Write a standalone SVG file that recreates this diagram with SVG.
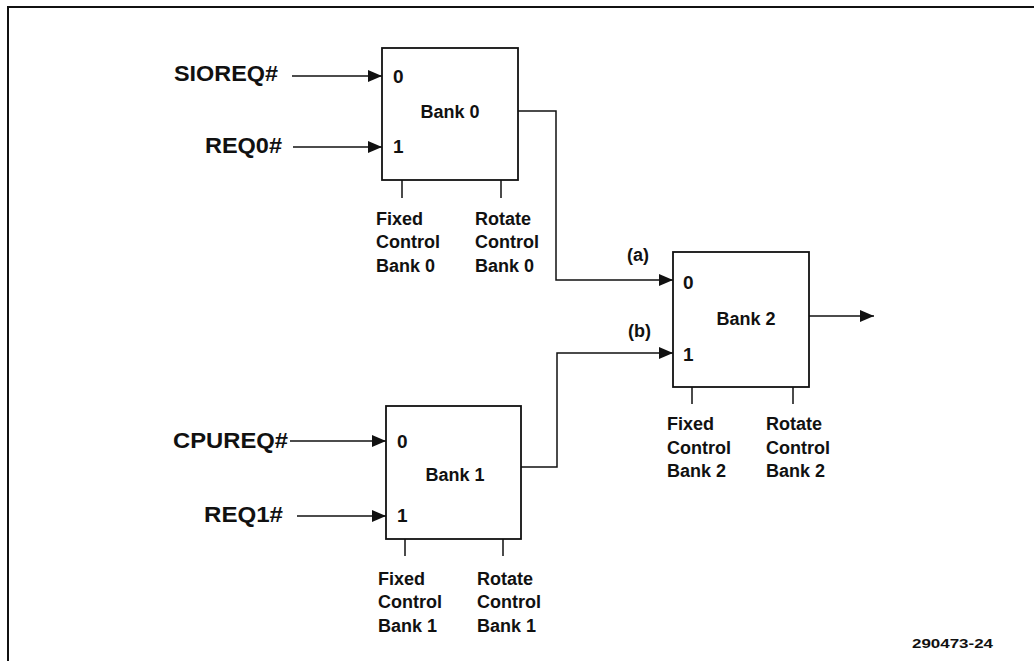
<svg xmlns="http://www.w3.org/2000/svg" width="1034" height="661" viewBox="0 0 1034 661">
<style>
text{font-family:"Liberation Sans",Arial,sans-serif;font-weight:bold;fill:#111}
.in{font-size:22px}
.lb{font-size:18px}
.pin{font-size:19px}
.sm{font-size:13px}
.box{fill:#fff;stroke:#111;stroke-width:1.8}
.w{fill:none;stroke:#111;stroke-width:1.5}
</style>
<defs>
<marker id="ah" viewBox="0 0 14 12" refX="14" refY="6" markerWidth="14" markerHeight="12" markerUnits="userSpaceOnUse" orient="auto">
<path d="M0,0L14,6L0,12Z" fill="#111"/>
</marker>
</defs>
<rect width="1034" height="661" fill="#fff"/>
<path d="M8,661V7H1034" fill="none" stroke="#111" stroke-width="2"/>

<g id="connectors">
<path class="w" d="M292,76H382" marker-end="url(#ah)"/>
<path class="w" d="M293,147H382" marker-end="url(#ah)"/>
<path class="w" d="M290,441H386" marker-end="url(#ah)"/>
<path class="w" d="M297,516H386" marker-end="url(#ah)"/>
<path class="w" d="M518,111H556V280H673" marker-end="url(#ah)"/>
<path class="w" d="M521,467H557V353H673" marker-end="url(#ah)"/>
<path class="w" d="M809,316H874" marker-end="url(#ah)"/>
<path class="w" d="M402,180V198M501,180V198"/>
<path class="w" d="M405,539V556M503,539V556"/>
<path class="w" d="M692,387V404M793,387V404"/>
</g>

<g id="inputs">
<text class="in" x="174" y="81" textLength="104" lengthAdjust="spacingAndGlyphs">SIOREQ#</text>
<text class="in" x="205" y="153" textLength="77" lengthAdjust="spacingAndGlyphs">REQ0#</text>
<text class="in" x="173" y="448" textLength="115" lengthAdjust="spacingAndGlyphs">CPUREQ#</text>
<text class="in" x="204" y="522" textLength="79" lengthAdjust="spacingAndGlyphs">REQ1#</text>
</g>

<g id="bank0">
<rect class="box" x="382" y="48" width="136" height="132"/>
<text class="pin" x="393" y="83">0</text>
<text class="pin" x="393" y="153">1</text>
<text class="lb" x="450" y="118" text-anchor="middle">Bank 0</text>
<text class="lb" x="376" y="225">Fixed</text>
<text class="lb" x="376" y="248">Control</text>
<text class="lb" x="376" y="272">Bank 0</text>
<text class="lb" x="475" y="225">Rotate</text>
<text class="lb" x="475" y="248">Control</text>
<text class="lb" x="475" y="272">Bank 0</text>
</g>

<g id="bank1">
<rect class="box" x="386" y="406" width="135" height="133"/>
<text class="pin" x="397" y="448">0</text>
<text class="pin" x="397" y="522">1</text>
<text class="lb" x="455" y="481" text-anchor="middle">Bank 1</text>
<text class="lb" x="378" y="585">Fixed</text>
<text class="lb" x="378" y="608">Control</text>
<text class="lb" x="378" y="632">Bank 1</text>
<text class="lb" x="477" y="585">Rotate</text>
<text class="lb" x="477" y="608">Control</text>
<text class="lb" x="477" y="632">Bank 1</text>
</g>

<g id="bank2">
<rect class="box" x="673" y="252" width="136" height="135"/>
<text class="pin" x="683" y="289">0</text>
<text class="pin" x="683" y="361">1</text>
<text class="lb" x="746" y="325" text-anchor="middle">Bank 2</text>
<text class="lb" x="667" y="430">Fixed</text>
<text class="lb" x="667" y="454">Control</text>
<text class="lb" x="667" y="477">Bank 2</text>
<text class="lb" x="766" y="430">Rotate</text>
<text class="lb" x="766" y="454">Control</text>
<text class="lb" x="766" y="477">Bank 2</text>
</g>

<g id="labels">
<text class="lb" x="627" y="261">(a)</text>
<text class="lb" x="628" y="337">(b)</text>
<text class="sm" x="912" y="648" textLength="81" lengthAdjust="spacingAndGlyphs">290473-24</text>
</g>
</svg>
